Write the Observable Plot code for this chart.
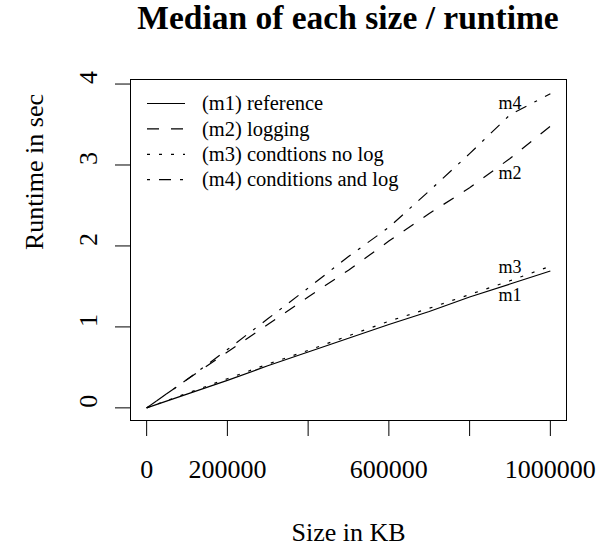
<!DOCTYPE html>
<html>
<head>
<meta charset="utf-8">
<script src="https://cdn.jsdelivr.net/npm/d3@7"></script>
<script src="https://cdn.jsdelivr.net/npm/@observablehq/plot@0.6"></script>
<style>
  html, body { margin: 0; padding: 0; background: white; }
  #wrap { width: 600px; height: 547px; background: white; overflow: hidden; }
  #title { margin-left: 130px; width: 436px; height: 60px; text-align: center;
           font: bold 33.5px "Liberation Serif", "Times New Roman", serif; line-height: 36px; white-space: nowrap; }
  svg { display: block; }
</style>
</head>
<body>
<div id="wrap">
  <div id="title">Median of each size / runtime</div>
  <div id="chart"></div>
</div>
<script>
// ---- data ----
const sizes = [0, 100000, 200000, 300000, 400000, 500000, 600000, 700000, 800000, 900000, 1000000];
const m1 = [0, 0.17, 0.34, 0.52, 0.69, 0.86, 1.03, 1.19, 1.37, 1.53, 1.69];
const m2 = [0, 0.35, 0.69, 1.03, 1.37, 1.70, 2.06, 2.40, 2.72, 3.08, 3.48];
const m3 = [0, 0.18, 0.36, 0.54, 0.71, 0.89, 1.07, 1.23, 1.40, 1.57, 1.75];
const m4 = [0, 0.35, 0.72, 1.10, 1.48, 1.87, 2.23, 2.68, 3.14, 3.62, 3.88];
const seriesNames = ["m1", "m2", "m3", "m4"];
const legendLabels = ["(m1) reference", "(m2) logging", "(m3) condtions no log", "(m4) conditions and log"];
const endLabelX = [900000, 900000, 900000, 900000];
const endLabelY = [1.39, 2.90, 1.74, 3.76];
const xTicks = [0, 200000, 400000, 600000, 800000, 1000000];
const xTickLabels = ["0", "200000", "", "600000", "", "1000000"];
const yTicks = [0, 1, 2, 3, 4];
const xTitle = "Size in KB";
const yTitle = "Runtime in sec";

// ---- build table ----
const values = [m1, m2, m3, m4];
const rows = seriesNames.flatMap((name, i) => sizes.map((s, j) => ({series: name, size: s, time: values[i][j]})));
const endLabels = seriesNames.map((name, i) => ({name, x: endLabelX[i], y: endLabelY[i]}));

const dashFor = {m1: "none", m2: "12,12", m3: "3,9", m4: "3,9,12,9"};
const font = '"Liberation Serif", "Times New Roman", serif';

function legendMark(index, scales, vals, dims) {
  const g = d3.create("svg:g").attr("text-anchor", "start");
  const x0 = dims.marginLeft, y0 = dims.marginTop;
  seriesNames.forEach((name, i) => {
    const y = y0 + 24.5 + i * 25.4;
    g.append("line")
      .attr("x1", x0 + 17).attr("x2", x0 + 55)
      .attr("y1", y).attr("y2", y)
      .attr("stroke", "black").attr("stroke-width", 1.2)
      .attr("stroke-dasharray", dashFor[name]);
    g.append("text")
      .attr("x", x0 + 72).attr("y", y).attr("dy", "0.33em")
      .attr("text-anchor", "start")
      .attr("font-size", 20.5).attr("font-family", font).attr("fill", "black")
      .text(legendLabels[i]);
  });
  return g.node();
}

const chart = Plot.plot({
  width: 600,
  height: 487,
  marginTop: 19,
  marginBottom: 127,
  marginLeft: 130,
  marginRight: 34,
  style: {fontFamily: font, background: "white", color: "black"},
  x: {domain: [-40000, 1040000]},
  y: {domain: [-0.156, 4.056]},
  marks: [
    Plot.frame({stroke: "black", strokeWidth: 1}),
    ...seriesNames.map(name => Plot.line(rows.filter(d => d.series === name), {
      x: "size", y: "time", stroke: "black", strokeWidth: 1.2,
      strokeDasharray: dashFor[name], strokeLinecap: "butt", strokeLinejoin: "round"
    })),
    Plot.text(endLabels, {x: "x", y: "y", text: "name", fontSize: 18, fill: "black"}),
    legendMark,
    Plot.axisX(xTicks, {tickSize: 16, tickPadding: 23.5, fontSize: 26, label: null,
      tickFormat: d => xTickLabels[xTicks.indexOf(d)], stroke: "black"}),
    Plot.axisY(yTicks, {tickSize: 15, tickFormat: () => "", label: null, stroke: "black"}),
    Plot.text(yTicks, {y: d => d, text: d => String(d), frameAnchor: "left", dx: -34,
      rotate: -90, lineAnchor: "bottom", fontSize: 26, fill: "black"}),
    Plot.text([yTitle], {text: d => d, frameAnchor: "left", dx: -88, rotate: -90,
      lineAnchor: "bottom", fontSize: 26, fill: "black"}),
    Plot.text([xTitle], {text: d => d, frameAnchor: "bottom", dy: 120,
      lineAnchor: "bottom", fontSize: 26, fill: "black"})
  ]
});
document.getElementById("chart").appendChild(chart);
</script>
</body>
</html>
